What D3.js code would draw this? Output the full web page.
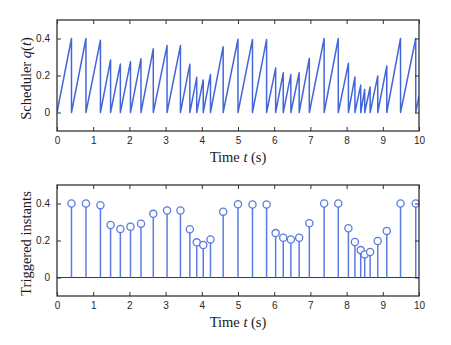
<!DOCTYPE html>
<html>
<head>
<meta charset="utf-8">
<script src="https://cdn.jsdelivr.net/npm/d3@7"></script>
<style>
  html, body { margin: 0; padding: 0; background: #fff; }
  svg { display: block; }
</style>
</head>
<body>
<script>
// ---- Data ----
const xTicks = [0, 1, 2, 3, 4, 5, 6, 7, 8, 9, 10];
const yTicks = [0, 0.2, 0.4];
const yTickLabels = ["0", "0.2", "0.4"];
const triggerTimes = [0.40, 0.80, 1.20, 1.48, 1.75, 2.03, 2.32, 2.66, 3.04, 3.41, 3.67, 3.86, 4.04, 4.24, 4.59,
  5.00, 5.40, 5.79, 6.04, 6.25, 6.46, 6.69, 6.97, 7.38, 7.77, 8.05, 8.23, 8.39, 8.50, 8.65, 8.86, 9.11, 9.49, 9.91];
const triggerValues = [0.400, 0.400, 0.391, 0.284, 0.262, 0.275, 0.291, 0.344, 0.362, 0.362, 0.261, 0.190, 0.176, 0.206, 0.356,
  0.396, 0.395, 0.395, 0.240, 0.215, 0.205, 0.215, 0.293, 0.400, 0.400, 0.266, 0.192, 0.148, 0.125, 0.138, 0.197, 0.252, 0.400, 0.400];
const schedStart = [0, 0];      // [t, q] at start
const schedEnd = [10, 0.09];    // [t, q] at end of window

// ---- Layout ----
const W = 451, H = 345;
const left = 57, right = 419;
const panels = [
  { top: 20, bottom: 131, ylabel: "sched" },
  { top: 185, bottom: 296, ylabel: "trig" }
];
const lineColor = "#4467d8";
const stemColor = "#5b7be0";
const axisColor = "#333333";
const labelFont = "'Liberation Serif', 'Times New Roman', serif";

const svg = d3.select("body").append("svg").attr("width", W).attr("height", H);
const x = d3.scaleLinear().domain([0, 10]).range([left, right]);

panels.forEach((p, i) => {
  const y = d3.scaleLinear().domain([-0.1, 0.5]).range([p.bottom, p.top]);
  const g = svg.append("g");
  const clipId = "clip" + i;
  svg.append("clipPath").attr("id", clipId).append("rect")
    .attr("x", left).attr("y", p.top).attr("width", right - left).attr("height", p.bottom - p.top);

  const plot = g.append("g").attr("clip-path", `url(#${clipId})`);

  if (i === 0) {
    const pts = [schedStart];
    triggerTimes.forEach((t, k) => { pts.push([t, triggerValues[k]]); pts.push([t, 0]); });
    pts.push(schedEnd);
    plot.append("path")
      .attr("d", d3.line().x(d => x(d[0])).y(d => y(d[1]))(pts))
      .attr("fill", "none").attr("stroke", lineColor).attr("stroke-width", 1.5)
      .attr("stroke-linejoin", "round");
  } else {
    plot.append("line").attr("x1", left).attr("x2", right)
      .attr("y1", y(0)).attr("y2", y(0)).attr("stroke", "#3a3a3a").attr("stroke-width", 1.2);
    const data = triggerTimes.map((t, k) => ({ t, v: triggerValues[k] }));
    g.selectAll("line.stem").data(data).join("line").attr("class", "stem")
      .attr("x1", d => x(d.t)).attr("x2", d => x(d.t))
      .attr("y1", y(0)).attr("y2", d => y(d.v))
      .attr("stroke", stemColor).attr("stroke-width", 1.5);
    g.selectAll("circle.mk").data(data).join("circle").attr("class", "mk")
      .attr("cx", d => x(d.t)).attr("cy", d => y(d.v)).attr("r", 3.6)
      .attr("fill", "white").attr("stroke", stemColor).attr("stroke-width", 1.3);
  }

  const axB = d3.axisBottom(x).tickValues(xTicks).tickSize(-4).tickPadding(6).tickFormat(d3.format("d"));
  const axT = d3.axisTop(x).tickValues(xTicks).tickSize(-4).tickFormat("");
  const axL = d3.axisLeft(y).tickValues(yTicks).tickSize(-4).tickPadding(7).tickFormat((d, j) => yTickLabels[j]);
  const axR = d3.axisRight(y).tickValues(yTicks).tickSize(-4).tickFormat("");
  const style = sel => {
    sel.select(".domain").remove();
    sel.selectAll(".tick line").attr("stroke", axisColor).attr("stroke-width", 1);
    sel.selectAll(".tick text").attr("fill", "#262626")
      .style("font-family", "'Liberation Sans', Arial, sans-serif").style("font-size", "10px");
  };
  g.append("g").attr("transform", `translate(0,${p.bottom})`).call(axB).call(style);
  g.append("g").attr("transform", `translate(0,${p.top})`).call(axT).call(style);
  g.append("g").attr("transform", `translate(${left},0)`).call(axL).call(style);
  g.append("g").attr("transform", `translate(${right},0)`).call(axR).call(style);

  g.append("rect").attr("x", left).attr("y", p.top).attr("width", right - left).attr("height", p.bottom - p.top)
    .attr("fill", "none").attr("stroke", axisColor).attr("stroke-width", 1.3);

  const xl = g.append("text").attr("x", (left + right) / 2).attr("y", p.bottom + 31)
    .attr("text-anchor", "middle").attr("fill", "#1a1a1a")
    .style("font-family", labelFont).style("font-size", "14.5px");
  xl.append("tspan").text("Time ");
  xl.append("tspan").attr("font-style", "italic").text("t");
  xl.append("tspan").text(" (s)");

  const cy = (p.top + p.bottom) / 2 + 3;
  const yl = g.append("text").attr("transform", `translate(31,${cy}) rotate(-90)`)
    .attr("text-anchor", "middle").attr("fill", "#1a1a1a")
    .style("font-family", labelFont).style("font-size", "14.5px");
  if (p.ylabel === "sched") {
    yl.append("tspan").text("Scheduler ");
    yl.append("tspan").attr("font-style", "italic").text("q");
    yl.append("tspan").text("(");
    yl.append("tspan").attr("font-style", "italic").text("t");
    yl.append("tspan").text(")");
  } else {
    yl.text("Triggered instants");
  }
});
</script>
</body>
</html>
